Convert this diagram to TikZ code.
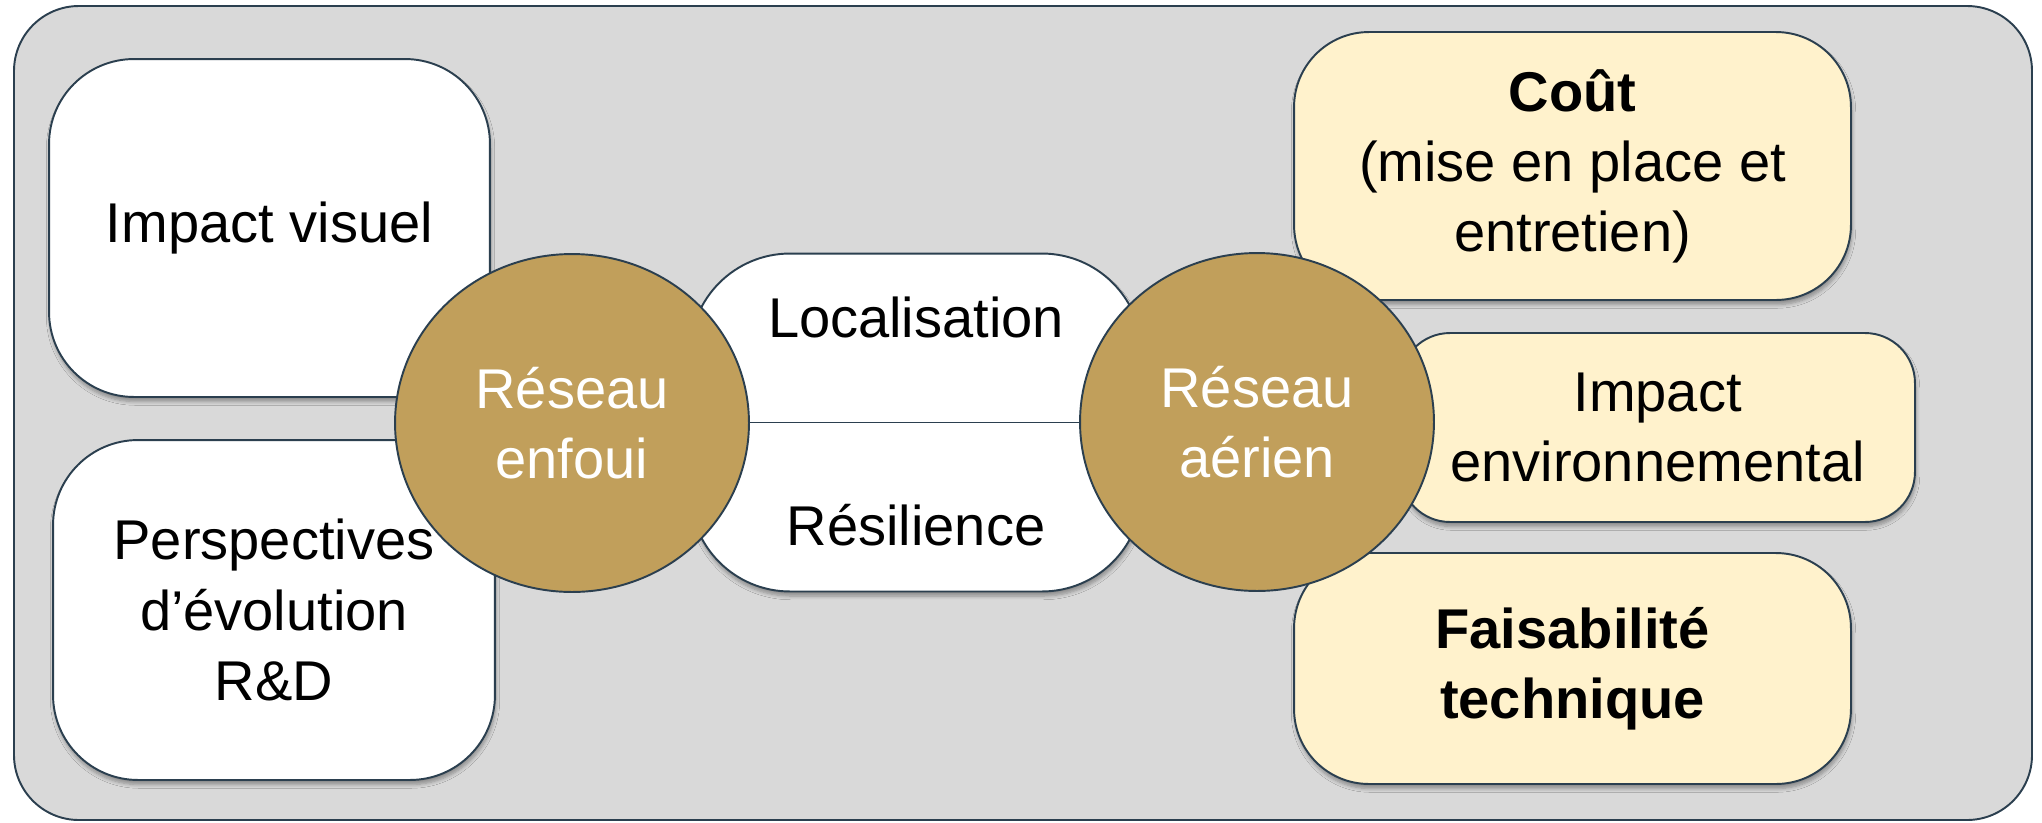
\documentclass[tikz,border=0pt]{standalone}
\usepackage{fontspec}
\setmainfont{Liberation Sans}
\usepackage{xcolor}
\usepackage{tikz}
\usetikzlibrary{shapes.geometric,shadows.blur}

\definecolor{panelgrey}{HTML}{D9D9D9}
\definecolor{edgeslate}{HTML}{2B3F4F}
\definecolor{netgold}{HTML}{C19F5B}
\definecolor{critcream}{HTML}{FFF2CC}

\tikzset{
  bigtext/.style={font=\fontsize{31.9}{39.9}\selectfont, align=center},
  softshadow/.style={blur shadow={shadow xshift=0.6pt, shadow yshift=-2.6pt,
      shadow blur steps=6, shadow opacity=35}},
  critbox/.style={draw=edgeslate, line width=1.1pt, softshadow,
      rectangle, inner sep=0pt, bigtext},
  netdisc/.style={draw=edgeslate, line width=1.1pt, fill=netgold,
      ellipse, inner sep=0pt, minimum width=7.08cm, minimum height=6.76cm,
      text=white, bigtext}
}

\begin{document}
\begin{tikzpicture}[x=0.02cm, y=-0.02cm]
  \useasboundingbox (0,0) rectangle (2042,822);
  % ── Background panel ─────────────────────────────────────
  \draw[edgeslate, line width=1.1pt, fill=panelgrey, rounded corners=1.3cm]
    (14,6) rectangle (2032,820);

  % ── Left side: underground criteria ─────────────────────
  \node[critbox, fill=white, rounded corners=1.7cm,
        minimum width=8.82cm, minimum height=6.76cm]
    (visuel) at (269.5,228) {Impact visuel};
  \node[critbox, fill=white, rounded corners=1.7cm,
        minimum width=8.84cm, minimum height=6.8cm]
    (perspec) at (274,610) {Perspectives\\d’évolution\\R\&D};

  % ── Right side: overhead criteria ───────────────────────
  \node[critbox, fill=critcream, rounded corners=1.5cm,
        minimum width=11.14cm, minimum height=5.36cm]
    (cout) at (1572.5,166) {\textbf{Coût}\\(mise en place et\\entretien)};
  \node[critbox, fill=critcream, rounded corners=1cm,
        minimum width=10.3cm, minimum height=3.78cm]
    (envir) at (1657.5,427.5) {Impact\\environnemental};
  \node[critbox, fill=critcream, rounded corners=1.5cm,
        minimum width=11.14cm, minimum height=4.62cm]
    (faisab) at (1572.5,668.5) {\textbf{Faisabilité}\\\textbf{technique}};

  % ── Shared criteria in the middle ───────────────────────
  \node[critbox, fill=white, rounded corners=2cm,
        minimum width=9.04cm, minimum height=6.76cm]
    (locres) at (916,422.5) {};
  \draw[edgeslate, line width=1.1pt] (locres.west) -- (locres.east);
  \node[bigtext] (locali) at (916,317) {Localisation};
  \node[bigtext] (resil) at (916,525) {Résilience};

  % ── The two networks ────────────────────────────────────
  \node[netdisc] (enfoui) at (572,423) {Réseau\\enfoui};
  \node[netdisc] (aerien) at (1257,422) {Réseau\\aérien};
\end{tikzpicture}
\end{document}
